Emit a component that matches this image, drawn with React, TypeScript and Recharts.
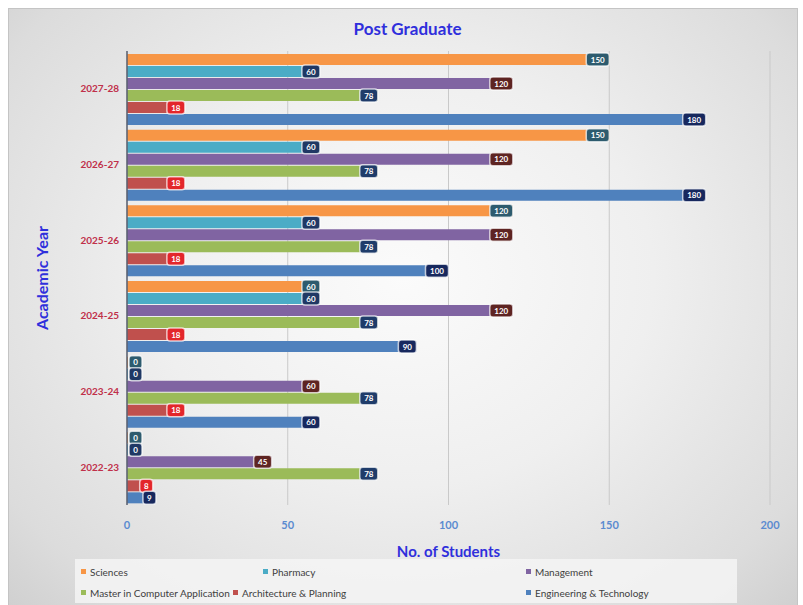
import { BarChart, Bar, XAxis, YAxis, CartesianGrid, LabelList } from "recharts";

const years = ["2022-23", "2023-24", "2024-25", "2025-26", "2026-27", "2027-28"];
const sciences = [0, 0, 60, 120, 150, 150];
const pharmacy = [0, 0, 60, 60, 60, 60];
const management = [45, 60, 120, 120, 120, 120];
const mca = [78, 78, 78, 78, 78, 78];
const architecture = [8, 18, 18, 18, 18, 18];
const engineering = [9, 60, 90, 100, 180, 180];
const xTicks = [0, 50, 100, 150, 200];

const data = years.map((year, i) => ({
  year,
  sciences: sciences[i],
  pharmacy: pharmacy[i],
  management: management[i],
  mca: mca[i],
  architecture: architecture[i],
  engineering: engineering[i],
}));

const series = [
  { key: "sciences", name: "Sciences", color: "#f79646", box: "#2d5b6e" },
  { key: "pharmacy", name: "Pharmacy", color: "#4bacc6", box: "#1f3864" },
  { key: "management", name: "Management", color: "#8064a2", box: "#5e2422" },
  { key: "mca", name: "Master in Computer Application", color: "#9bbb59", box: "#1f3c6a" },
  { key: "architecture", name: "Architecture & Planning", color: "#c0504d", box: "#e3262b" },
  { key: "engineering", name: "Engineering & Technology", color: "#4f81bd", box: "#17285e" },
];

const font = "Lato, 'Open Sans', sans-serif";

const valueBox = (fill: string) => (props: any) => {
  const { x, y, width, height, value } = props;
  const digits = String(value).length;
  const w = 8 + digits * 5;
  const h = 13;
  const right = x + width;
  const left = Math.max(x + 2, right - w);
  const cy = y + height / 2;
  return (
    <g>
      <rect x={left} y={cy - h / 2} width={w} height={h} rx={3} fill={fill} stroke="rgba(255,255,255,0.7)" strokeWidth={1.5} />
      <text x={left + w / 2} y={cy + 3} textAnchor="middle" fontSize={8} fontWeight="bold" fill="#ffffff" fontFamily={font}>
        {value}
      </text>
    </g>
  );
};

const legendRows = [
  [series[0], series[1], series[2]],
  [series[3], series[4], series[5]],
];
const legendWidths = [
  [182, 263, 200],
  [152, 293, 200],
];

const App = () => {
  return (
    <div
      style={{
        position: "fixed",
        left: 0,
        top: 0,
        width: 803,
        height: 605,
        background: "#ffffff",
        fontFamily: font,
      }}
    >
      <div
        style={{
          position: "absolute",
          left: 8,
          top: 8,
          width: 788,
          height: 596,
          border: "1px solid #c4c4c4",
          background: "radial-gradient(ellipse at 50% 45%, #fbfbfb 0%, #efefef 45%, #dcdcdc 85%, #d0d0d0 100%)",
        }}
      />
      <div
        style={{
          position: "absolute",
          top: 18,
          left: 0,
          width: 815,
          textAlign: "center",
          color: "#2f2fdc",
          fontWeight: "bold",
          fontSize: 17,
        }}
      >
        Post Graduate
      </div>
      <div style={{ position: "absolute", left: 0, top: 0 }}>
        <BarChart
          width={803}
          height={605}
          data={data}
          layout="vertical"
          margin={{ top: 51, right: 33, bottom: 40, left: 57 }}
          barCategoryGap={3}
          barGap={1}
        >
          <CartesianGrid horizontal={false} stroke="#c9c9c9" />
          <XAxis
            type="number"
            domain={[0, 200]}
            ticks={xTicks}
            axisLine={false}
            tickLine={false}
            tickMargin={10}
            height={60}
            tick={{ fill: "#5b8bd0", fontSize: 11, fontWeight: "bold", fontFamily: font }}
            label={{
              value: "No. of Students",
              position: "insideBottom",
              offset: 8,
              fill: "#2f2fdc",
              fontSize: 15,
              fontWeight: "bold",
              fontFamily: font,
            }}
          />
          <YAxis
            type="category"
            dataKey="year"
            reversed
            width={70}
            tickLine={false}
            axisLine={{ stroke: "#5a6070", strokeWidth: 1.5 }}
            tick={{ fill: "#c0304a", fontSize: 10, fontWeight: "bold", fontFamily: font }}
            label={{
              content: () => (
                <text
                  x={48}
                  y={278}
                  transform="rotate(-90 48 278)"
                  textAnchor="middle"
                  fill="#2f2fdc"
                  fontSize={16}
                  fontWeight="bold"
                  fontFamily={font}
                >
                  Academic Year
                </text>
              ),
            }}
          />
          {series.map((s) => (
            <Bar key={s.key} dataKey={s.key} name={s.name} fill={s.color} minPointSize={1} isAnimationActive={false}>
              <LabelList dataKey={s.key} content={valueBox(s.box)} />
            </Bar>
          ))}
        </BarChart>
      </div>
      <div
        style={{
          position: "absolute",
          left: 75,
          top: 559,
          width: 662,
          height: 44,
          background: "rgba(245,245,245,0.85)",
          fontSize: 10,
          color: "#404040",
          whiteSpace: "nowrap",
        }}
      >
        {legendRows.map((row, r) => (
          <div key={r} style={{ display: "flex", height: 21, alignItems: "center", paddingLeft: 6, paddingTop: r === 0 ? 2 : 0 }}>
            {row.map((s, c) => (
              <div key={s.key} style={{ width: legendWidths[r][c], display: "flex", alignItems: "center" }}>
                <span style={{ display: "inline-block", width: 5, height: 5, background: s.color, marginRight: 4 }} />
                {s.name}
              </div>
            ))}
          </div>
        ))}
      </div>
    </div>
  );
};

export default App;
